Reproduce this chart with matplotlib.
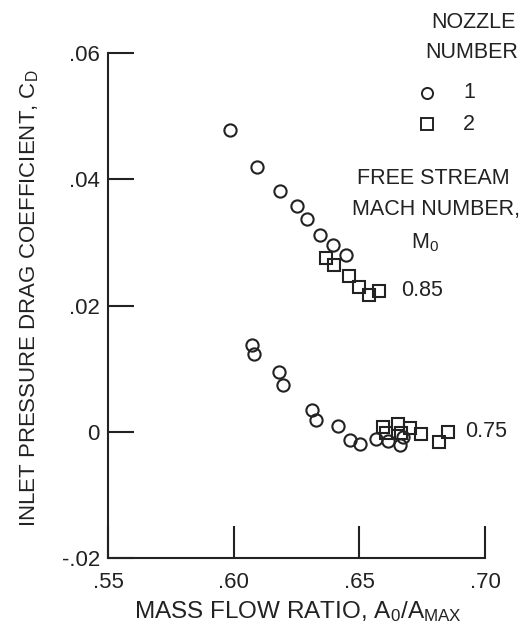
import matplotlib
matplotlib.use('Agg')
import matplotlib.pyplot as plt

plt.rcParams['font.family'] = ['Liberation Sans', 'DejaVu Sans']
plt.rcParams['mathtext.fontset'] = 'custom'
plt.rcParams['mathtext.rm'] = 'Liberation Sans'
plt.rcParams['mathtext.it'] = 'Liberation Sans'
plt.rcParams['mathtext.default'] = 'rm'

# M0 = 0.85
n1_085_x = [0.5985, 0.6094, 0.6185, 0.6251, 0.6291, 0.6342, 0.6395, 0.6446]
n1_085_y = [0.0479, 0.0420, 0.0381, 0.0358, 0.0337, 0.0312, 0.0296, 0.0280]
n2_085_x = [0.6366, 0.6400, 0.6457, 0.6499, 0.6538, 0.6579]
n2_085_y = [0.0275, 0.0265, 0.0246, 0.0229, 0.0217, 0.0223]

# M0 = 0.75
n1_075_x = [0.6074, 0.6079, 0.6181, 0.6195, 0.6313, 0.6329, 0.6415, 0.6461,
            0.6501, 0.6565, 0.6612, 0.6660, 0.6673]
n1_075_y = [0.0137, 0.0123, 0.0095, 0.0074, 0.0034, 0.0018, 0.0009, -0.0013,
            -0.0020, -0.0012, -0.0015, -0.0021, -0.0008]
n2_075_x = [0.6595, 0.6607, 0.6652, 0.6666, 0.6700, 0.6745, 0.6815, 0.6852]
n2_075_y = [0.0008, -0.0002, 0.0012, -0.0002, 0.0005, -0.0004, -0.0016, -0.0001]

xticks = [0.55, 0.60, 0.65, 0.70]
xlabels = ['.55', '.60', '.65', '.70']
yticks = [-0.02, 0.0, 0.02, 0.04, 0.06]
ylabels = ['-.02', '0', '.02', '.04', '.06']

ink = '#222222'
W, H = 529, 634
fig = plt.figure(figsize=(W / 100, H / 100), dpi=100)
ax = fig.add_axes([108.3 / W, 1 - 557.7 / H, 376.7 / W, 504.4 / H])

mk = dict(linestyle='none', markerfacecolor='none', markeredgecolor=ink,
          markersize=8.8, markeredgewidth=1.5, clip_on=False)
ax.plot(n1_085_x, n1_085_y, marker='o', **mk)
ax.plot(n1_075_x, n1_075_y, marker='o', **mk)
ax.plot(n2_085_x, n2_085_y, marker='s', **mk)
ax.plot(n2_075_x, n2_075_y, marker='s', **mk)

ax.set_xlim(0.55, 0.70)
ax.set_ylim(-0.02, 0.06)
ax.spines['top'].set_visible(False)
ax.spines['right'].set_visible(False)
for s in ['left', 'bottom']:
    ax.spines[s].set_linewidth(1.5)
    ax.spines[s].set_color(ink)

ax.set_xticks(xticks)
ax.set_xticklabels(xlabels)
ax.set_yticks(yticks)
ax.set_yticklabels(ylabels)
ax.tick_params(axis='x', direction='in', length=23, width=1.5, pad=10,
               labelsize=16, colors=ink)
ax.tick_params(axis='y', direction='in', length=19, width=1.5, pad=6,
               labelsize=16, colors=ink)

fig.text(30 / W, 1 - 298 / H, 'INLET PRESSURE DRAG COEFFICIENT, $C_D$',
         rotation=90, ha='center', va='center', fontsize=16, color=ink)
fig.text(298 / W, 1 - 618 / H, 'MASS FLOW RATIO, $A_0/A_{MAX}$',
         ha='center', va='baseline', fontsize=17.5, color=ink)

# nozzle key
fs = 15.5
fig.text(473 / W, 1 - 22 / H, 'NOZZLE', ha='center', va='center', fontsize=fs, color=ink)
fig.text(472 / W, 1 - 53 / H, 'NUMBER', ha='center', va='center', fontsize=fs, color=ink)
key = dict(transform=fig.transFigure, linestyle='none', markerfacecolor='none',
           markeredgecolor=ink, markersize=8, markeredgewidth=1.4, clip_on=False)
ax.plot([427 / W], [1 - 93 / H], marker='o', **key)
ax.plot([427 / W], [1 - 124 / H], marker='s', **key)
fig.text(469 / W, 1 - 93 / H, '1', ha='center', va='center', fontsize=fs, color=ink)
fig.text(469 / W, 1 - 124 / H, '2', ha='center', va='center', fontsize=fs, color=ink)

fig.text(433.5 / W, 1 - 178 / H, 'FREE STREAM', ha='center', va='center', fontsize=fs, color=ink)
fig.text(436 / W, 1 - 210 / H, 'MACH NUMBER,', ha='center', va='center', fontsize=fs, color=ink)
fig.text(425 / W, 1 - 243 / H, '$M_0$', ha='center', va='center', fontsize=fs, color=ink)

ax.text(0.6665, n2_085_y[-1], '0.85', ha='left', va='center', fontsize=fs, color=ink)
ax.text(0.692, 0.0, '0.75', ha='left', va='center', fontsize=fs, color=ink)

fig.savefig('out.png', dpi=100, facecolor='white')
